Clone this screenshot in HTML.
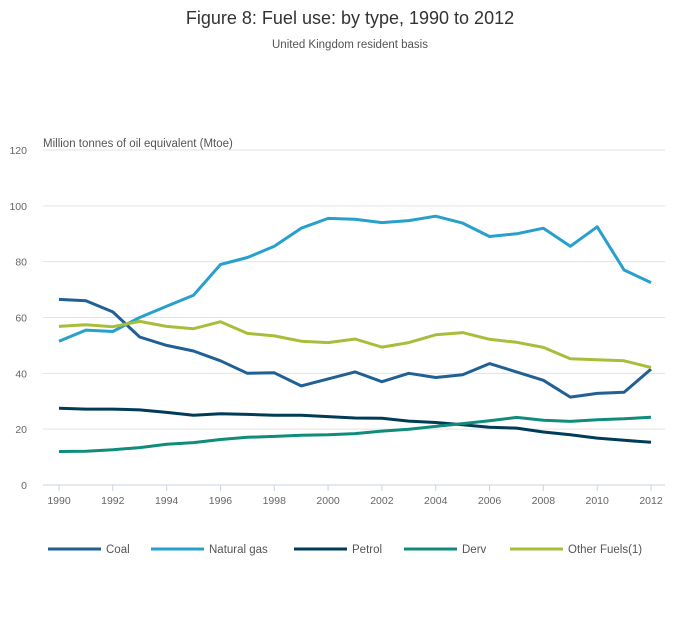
<!DOCTYPE html>
<html><head><meta charset="utf-8"><style>
body{margin:0;background:#fff;font-family:"Liberation Sans",sans-serif;}
svg text{font-family:"Liberation Sans",sans-serif;}
</style></head><body>
<svg id="c" width="700" height="635">
<text x="350" y="24" text-anchor="middle" font-size="18" fill="#333">Figure 8: Fuel use: by type, 1990 to 2012</text>
<text x="350" y="48" text-anchor="middle" font-size="11.5" fill="#555">United Kingdom resident basis</text>
<text x="43" y="147" font-size="11.5" fill="#555">Million tonnes of oil equivalent (Mtoe)</text>
<g id="grid"></g><g id="lines"></g><g id="legend"></g>
</svg>
<script>
const years=[1990,1991,1992,1993,1994,1995,1996,1997,1998,1999,2000,2001,2002,2003,2004,2005,2006,2007,2008,2009,2010,2011,2012];
const coal=[66.5,66,62,53,50,48,44.5,40,40.2,35.5,38,40.5,37,40,38.5,39.5,43.5,40.5,37.5,31.5,32.8,33.2,41.5];
const gas=[51.5,55.5,55,60,64,68,79,81.5,85.5,92,95.5,95.2,94,94.7,96.3,93.8,89,90,92,85.5,92.5,77,72.5];
const petrol=[27.5,27.2,27.2,26.9,26,25,25.5,25.3,25,25,24.5,24,23.9,22.9,22.4,21.6,20.7,20.4,19,18,16.8,16,15.3];
const derv=[12,12.1,12.6,13.4,14.6,15.2,16.3,17.1,17.4,17.8,18,18.4,19.3,20,21,22,23,24.2,23.2,22.8,23.4,23.7,24.3];
const other=[56.8,57.4,56.7,58.6,56.8,56,58.5,54.3,53.4,51.5,51,52.3,49.4,51,53.8,54.6,52.2,51.1,49.3,45.2,44.9,44.5,42.1];
const yTicks=[0,20,40,60,80,100,120];
const seriesNames=["Coal","Natural gas","Petrol","Derv","Other Fuels(1)"];
const NS="http://www.w3.org/2000/svg";
const x=v=>59+(v-1990)*(651-59)/22;
const y=v=>485-v*(485-150)/120;
function mk(t,a,p){const e=document.createElementNS(NS,t);for(const k in a)e.setAttribute(k,a[k]);p.appendChild(e);return e;}
const g=document.getElementById('grid');
yTicks.forEach(t=>{
 const l=mk('line',{x1:43,x2:665,y1:y(t),y2:y(t),stroke:t===0?'#c8d3e3':'#e3e3e3','stroke-width':1},g);
 
 
 const tx=mk('text',{x:27,y:y(t)+4,'font-size':10.5,fill:'#666','text-anchor':'end'},g);tx.textContent=t;
 
 
});
years.forEach(yr=>{if(yr%2)return;
 mk('line',{x1:x(yr),x2:x(yr),y1:485,y2:491,stroke:'#c8d3e3'},g);
 const tx=mk('text',{x:x(yr),y:504,'font-size':10.5,fill:'#666','text-anchor':'middle'},g);tx.textContent=yr;
 
 
});
const data=[coal,gas,petrol,derv,other];
const cols=['#206095','#27a0cc','#003c57','#118c7b','#a8bd3a'];
const L=document.getElementById('lines');
data.forEach((d,i)=>{
 const p=mk('path',{d:d.map((v,j)=>(j?'L':'M')+x(years[j]).toFixed(1)+','+y(v).toFixed(1)).join(''),fill:'none',stroke:cols[i],'stroke-width':3,'stroke-linejoin':'round'},L);
 
 
});
const lg=document.getElementById('legend');
const lx=[48,151,294,404,510];
seriesNames.forEach((n,i)=>{
 const gg=mk('g',{},lg);
 
 
 mk('line',{x1:lx[i],x2:lx[i]+53,y1:549,y2:549,stroke:cols[i],'stroke-width':3},gg);
 const t=mk('text',{x:lx[i]+58,y:553,'font-size':11.5,fill:'#555'},gg);t.textContent=n;
});
</script>
</body></html>
